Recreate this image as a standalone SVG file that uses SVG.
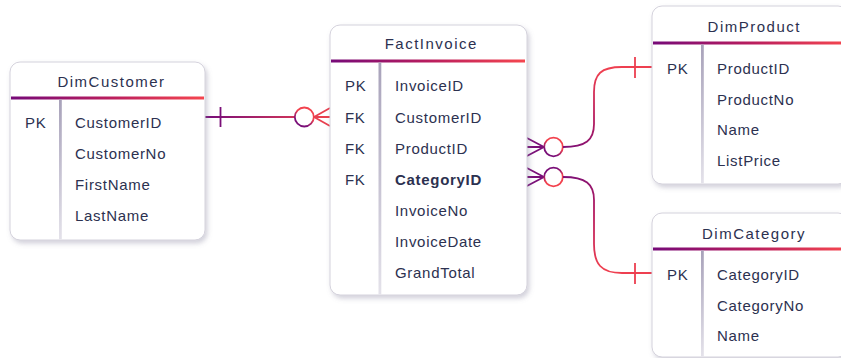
<svg xmlns="http://www.w3.org/2000/svg" width="841" height="358" viewBox="0 0 841 358">
  <defs>
    <!-- header underline: purple to coral -->
    <linearGradient id="headBar" x1="0" y1="0" x2="1" y2="0">
      <stop offset="0" stop-color="#760a78"/>
      <stop offset="0.5" stop-color="#b81d5e"/>
      <stop offset="1" stop-color="#f5464f"/>
    </linearGradient>
    <!-- key column divider -->
    <linearGradient id="divider" x1="0" y1="0" x2="0" y2="1">
      <stop offset="0" stop-color="#a8a2ba"/>
      <stop offset="1" stop-color="#e4e2ea"/>
    </linearGradient>
    <!-- connector strokes -->
    <linearGradient id="gCust" gradientUnits="userSpaceOnUse" x1="210" y1="0" x2="330" y2="0">
      <stop offset="0" stop-color="#7a0f78"/>
      <stop offset="1" stop-color="#f2424e"/>
    </linearGradient>
    <linearGradient id="gProd" gradientUnits="userSpaceOnUse" x1="565" y1="150" x2="605" y2="75">
      <stop offset="0" stop-color="#7a0f78"/>
      <stop offset="0.5" stop-color="#b81d5e"/>
      <stop offset="1" stop-color="#ee3f50"/>
    </linearGradient>
    <linearGradient id="gCat" gradientUnits="userSpaceOnUse" x1="565" y1="174" x2="605" y2="265">
      <stop offset="0" stop-color="#7a0f78"/>
      <stop offset="0.5" stop-color="#b81d5e"/>
      <stop offset="1" stop-color="#ee3f50"/>
    </linearGradient>
    <linearGradient id="ringUp" x1="0" y1="1" x2="0.6" y2="0">
      <stop offset="0.3" stop-color="#7a0f78"/>
      <stop offset="0.7" stop-color="#f2424e"/>
    </linearGradient>
    <linearGradient id="ringDown" x1="0" y1="0" x2="0.4" y2="1">
      <stop offset="0.3" stop-color="#7a0f78"/>
      <stop offset="0.7" stop-color="#f2424e"/>
    </linearGradient>
    <filter id="shadow" x="-10%" y="-10%" width="125%" height="125%">
      <feDropShadow dx="2" dy="3" stdDeviation="2.5" flood-color="#7c7894" flood-opacity="0.35"/>
    </filter>
  </defs>
  <style>
    .card { fill: #ffffff; stroke: #d4d2dc; stroke-width: 1; filter: url(#shadow); }
    .bar { fill: url(#headBar); }
    .div { fill: url(#divider); }
    text { font-family: "Liberation Sans", Arial, sans-serif; font-size: 15px; fill: #2c3150; }
    .title { text-anchor: middle; letter-spacing: 1.5px; }
    .f { letter-spacing: 0.7px; }
    .b { font-weight: bold; }
    .conn path, .conn line, .conn circle { fill: none; stroke-width: 1.8; }
    .conn circle { fill: #ffffff; }
  </style>

  <!-- relationship lines -->
  <g id="connectors" class="conn">
    <!-- DimCustomer 1 : 0..n FactInvoice -->
    <line x1="205" y1="117" x2="294.5" y2="117" stroke="url(#gCust)"/>
    <line x1="220.5" y1="107" x2="220.5" y2="127" stroke="#7a0f78"/>
    <circle cx="304.3" cy="117" r="9.5" stroke="url(#ringUp)"/>
    <path d="M314,117 L330,108 M314,117 L330,117 M314,117 L330,126" stroke="#e8404f"/>

    <!-- FactInvoice n..0 : 1 DimProduct -->
    <path d="M525,137 L544,147 M525,147 L544,147 M525,157 L544,147" stroke="#7a0f78"/>
    <circle cx="553.5" cy="147" r="9.3" stroke="url(#ringUp)"/>
    <path d="M563,147 C586,147 594,140 594,124 L594,92 C594,74 601,67 622,67 L652,67" stroke="url(#gProd)"/>
    <line x1="635" y1="57" x2="635" y2="78" stroke="#ec3f50"/>

    <!-- FactInvoice n..0 : 1 DimCategory -->
    <path d="M525,167 L544,177 M525,177 L544,177 M525,187 L544,177" stroke="#7a0f78"/>
    <circle cx="553.5" cy="177" r="9.3" stroke="url(#ringDown)"/>
    <path d="M563,177 C586,177 594,184 594,200 L594,244 C594,264 601,273 622,273 L652,273" stroke="url(#gCat)"/>
    <line x1="635" y1="263" x2="635" y2="284" stroke="#ec3f50"/>
  </g>

  <g id="DimCustomer">
    <rect class="card" x="10" y="62" width="195" height="178" rx="10"/>
    <text class="title" x="111.5" y="86.5">DimCustomer</text>
    <rect class="bar" x="11" y="96.5" width="193" height="3"/>
    <rect class="div" x="59" y="99.5" width="2.8" height="140"/>
    <text class="f" x="25" y="127.5">PK</text>
    <text class="f" x="75" y="127.5">CustomerID</text>
    <text class="f" x="75" y="159">CustomerNo</text>
    <text class="f" x="75" y="190">FirstName</text>
    <text class="f" x="75" y="221">LastName</text>
  </g>

  <g id="FactInvoice">
    <rect class="card" x="330" y="25" width="197" height="270" rx="10"/>
    <text class="title" x="431.3" y="49">FactInvoice</text>
    <rect class="bar" x="331" y="59.5" width="194" height="3"/>
    <rect class="div" x="378.5" y="62.5" width="2.8" height="232"/>
    <text class="f" x="345" y="90.5">PK</text>
    <text class="f" x="345" y="122.5">FK</text>
    <text class="f" x="345" y="153.5">FK</text>
    <text class="f" x="345" y="184.5">FK</text>
    <text class="f" x="395" y="90.5">InvoiceID</text>
    <text class="f" x="395" y="122.5">CustomerID</text>
    <text class="f" x="395" y="153.5">ProductID</text>
    <text class="f b" x="395" y="184.5">CategoryID</text>
    <text class="f" x="395" y="216">InvoiceNo</text>
    <text class="f" x="395" y="247">InvoiceDate</text>
    <text class="f" x="395" y="278">GrandTotal</text>
  </g>

  <g id="DimProduct">
    <rect class="card" x="652" y="6" width="196" height="178" rx="10"/>
    <text class="title" x="754.3" y="31.5">DimProduct</text>
    <rect class="bar" x="653" y="41.5" width="194" height="3"/>
    <rect class="div" x="701" y="44.5" width="2.8" height="139"/>
    <text class="f" x="667" y="73.5">PK</text>
    <text class="f" x="717" y="73.5">ProductID</text>
    <text class="f" x="717" y="104.5">ProductNo</text>
    <text class="f" x="717" y="135">Name</text>
    <text class="f" x="717" y="166">ListPrice</text>
  </g>

  <g id="DimCategory">
    <rect class="card" x="652" y="213" width="196" height="144" rx="10"/>
    <text class="title" x="754" y="238.5">DimCategory</text>
    <rect class="bar" x="653" y="247.5" width="194" height="3"/>
    <rect class="div" x="701" y="250.5" width="2.8" height="106"/>
    <text class="f" x="667" y="280">PK</text>
    <text class="f" x="717" y="280">CategoryID</text>
    <text class="f" x="717" y="310.5">CategoryNo</text>
    <text class="f" x="717" y="341">Name</text>
  </g>
</svg>
